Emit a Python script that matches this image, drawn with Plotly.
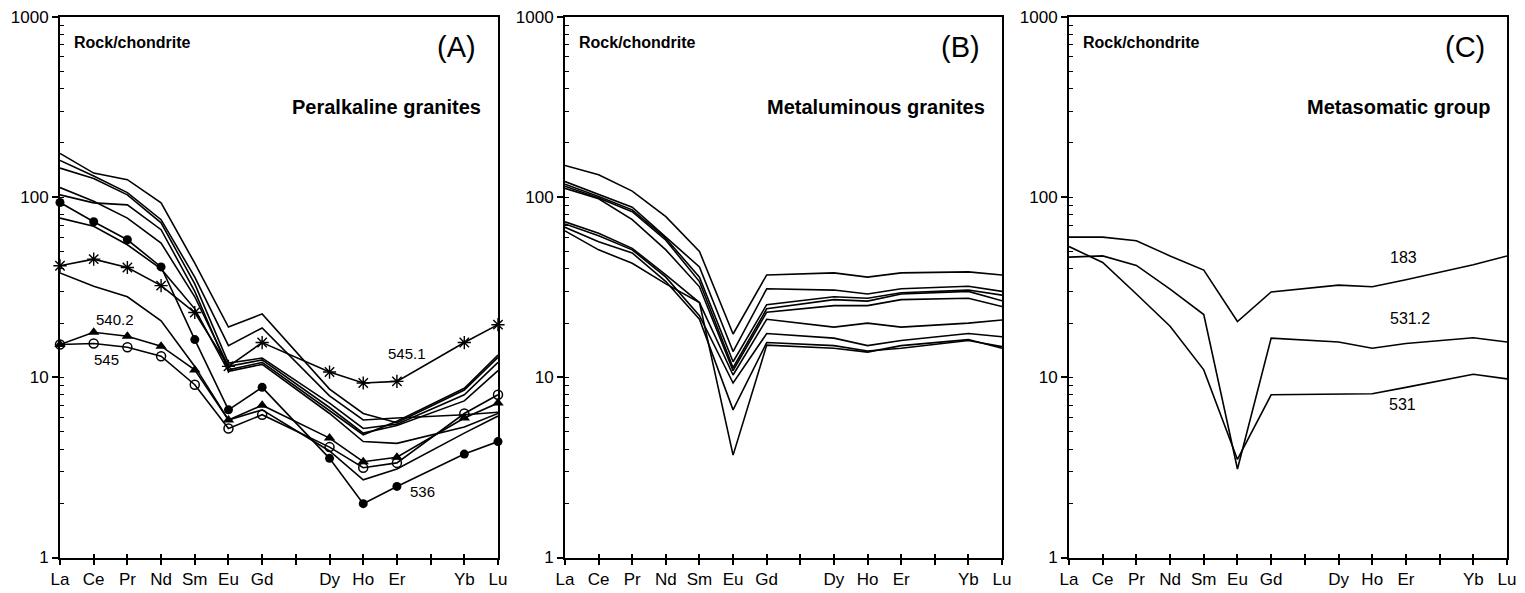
import math
import plotly.graph_objects as go

# Rare earth elements in atomic order; Tb and Tm were not analysed
REE_ALL = ["La", "Ce", "Pr", "Nd", "Sm", "Eu", "Gd", "Tb", "Dy", "Ho", "Er", "Tm", "Yb", "Lu"]
REE = ["La", "Ce", "Pr", "Nd", "Sm", "Eu", "Gd", "Dy", "Ho", "Er", "Yb", "Lu"]
TICK_TEXT = [e if e in REE else "" for e in REE_ALL]

# (A) Peralkaline granites, chondrite-normalised
A_unlabelled = [
    [175, 136, 125, 93, 43, 19, 22.5, 8.6, 6.3, 5.6, 8.5, 12.9],
    [160, 131, 106, 75, 36, 15, 18.8, 7.9, 5.8, 5.95, 6.2, 6.4],
    [145, 127, 103, 72, 33, 12, 12.8, 7.2, 5.2, 5.5, 8.0, 12.1],
    [113, 95, 76.5, 55.6, 28, 11.5, 12.5, 6.8, 4.9, 5.4, 7.4, 10.9],
    [103, 93, 90.6, 66, 30, 11, 12.1, 6.5, 4.8, 5.7, 8.7, 13.3],
    [76.5, 69, 54.4, 40, 24, 10.8, 11.8, 6.3, 4.4, 4.3, 5.3, 6.3],
    [38, 32, 28, 20.6, 11.5, 5.8, 6.6, 3.9, 2.7, 3.1, 4.9, 6.1],
]
s536 = [93.4, 73, 58, 41, 16.2, 6.6, 8.8, 3.55, 1.99, 2.48, 3.75, 4.4]
s545_1 = [41.6, 45.3, 40.7, 32.3, 22.9, 11.5, 15.6, 10.7, 9.3, 9.5, 15.6, 19.6]
s540_2 = [15.2, 17.8, 16.9, 14.9, 11.0, 5.8, 7.0, 4.6, 3.4, 3.6, 5.95, 7.2]
s545 = [15.2, 15.4, 14.7, 13.1, 9.1, 5.2, 6.2, 4.1, 3.15, 3.35, 6.3, 8.0]

# (B) Metaluminous granites
B_samples = [
    [150, 133, 108, 78, 50, 17.4, 37, 38, 36, 38, 38.5, 37],
    [122, 104, 88, 60, 41, 13.9, 31, 30.5, 29, 31, 32, 30],
    [118, 101, 85, 59, 36, 12.2, 25.3, 28, 27.5, 29.5, 30.5, 28.6],
    [115, 99, 83, 57.7, 34, 11.3, 24, 27, 26.5, 29, 30, 26.6],
    [112, 98, 75, 51, 31.8, 10.9, 23, 25, 25, 27, 27.5, 24.7],
    [73, 63, 52, 37, 26, 10.3, 21, 19, 20, 19, 20, 20.8],
    [71, 61, 51, 36, 22, 9.3, 17.5, 16.5, 15, 16, 17.5, 16.8],
    [68, 56.5, 49, 34, 21, 6.6, 15.6, 15, 14, 14.5, 16, 14.8],
    [65, 51, 43, 33, 26, 3.7, 15.1, 14.5, 13.8, 15, 16.2, 14.5],
]

# (C) Metasomatic group
s183 = [60, 60, 57.3, 47.2, 39.4, 20.4, 29.8, 32.5, 31.8, 34.8, 42.2, 47.2]
s531_2 = [46.5, 47.2, 41.8, 30.9, 22.3, 3.1, 16.5, 15.7, 14.5, 15.4, 16.6, 15.7]
s531 = [53.2, 43.4, 29.0, 19.2, 11.0, 3.5, 8.0, 8.05, 8.1, 8.8, 10.4, 9.8]

FONT = "Liberation Sans, Arial, sans-serif"
LINE = dict(color="black", width=1.6)

fig = go.Figure()


def add_line(values, axis, symbol=None, name=""):
    xr, yr = axis
    mode = "lines+markers" if symbol else "lines"
    marker = None
    if symbol == "circle-open":
        marker = dict(symbol=symbol, size=9, color="black", line=dict(color="black", width=1.5))
    elif symbol == "asterisk-open":
        marker = dict(symbol=symbol, size=11, color="black", line=dict(color="black", width=1.4))
    elif symbol == "triangle-up":
        marker = dict(symbol=symbol, size=10, color="black")
    elif symbol:
        marker = dict(symbol=symbol, size=9, color="black")
    fig.add_trace(go.Scatter(x=REE, y=values, mode=mode, line=LINE, marker=marker,
                             name=name, xaxis=xr, yaxis=yr, showlegend=False,
                             cliponaxis=False, hoverinfo="x+y+name"))


for v in A_unlabelled:
    add_line(v, ("x", "y"))
add_line(s536, ("x", "y"), "circle", "536")
add_line(s545_1, ("x", "y"), "asterisk-open", "545.1")
add_line(s540_2, ("x", "y"), "triangle-up", "540.2")
add_line(s545, ("x", "y"), "circle-open", "545")

for v in B_samples:
    add_line(v, ("x2", "y2"))

add_line(s183, ("x3", "y3"), name="183")
add_line(s531_2, ("x3", "y3"), name="531.2")
add_line(s531, ("x3", "y3"), name="531")

# invisible anchors so the inner tick overlays are drawn
for i in range(3):
    k = "" if i == 0 else str(i + 1)
    fig.add_trace(go.Scatter(x=["La"], y=[1], mode="markers", marker=dict(opacity=0),
                             xaxis="x" + str(i + 4), yaxis="y" + k, showlegend=False, hoverinfo="skip"))
    fig.add_trace(go.Scatter(x=["La"], y=[1], mode="markers", marker=dict(opacity=0),
                             xaxis="x" + k, yaxis="y" + str(i + 4), showlegend=False, hoverinfo="skip"))

W, H = 1525, 593
x_domains = [(60, 498), (565, 1002), (1069, 1507)]
y_top, y_bot = 17, 557.5
y_domain = [1 - y_bot / H, 1 - y_top / H]

major = [1, 10, 100, 1000]
minor = [k * 10 ** e for e in range(3) for k in range(1, 10)] + [1000]

layout = dict(width=W, height=H, margin=dict(l=0, r=0, t=0, b=0),
              paper_bgcolor="white", plot_bgcolor="white",
              font=dict(family=FONT, color="black"))

for i, (x0, x1) in enumerate(x_domains):
    k = "" if i == 0 else str(i + 1)
    ov = str(i + 4)
    layout["xaxis" + k] = dict(
        domain=[x0 / W, x1 / W], anchor="y" + k, type="category",
        categoryorder="array", categoryarray=REE_ALL, range=[0, 13],
        tickmode="array", tickvals=REE_ALL, ticktext=TICK_TEXT,
        ticks="outside", ticklen=5, tickwidth=1.5, tickcolor="black",
        showline=True, linewidth=2, linecolor="black", mirror=True,
        showgrid=False, zeroline=False, automargin=False,
        tickfont=dict(size=17, family=FONT, color="black"))
    layout["yaxis" + k] = dict(
        domain=y_domain, anchor="x" + k, type="log", range=[0, 3],
        tickmode="array", tickvals=major, ticktext=[str(m) for m in major],
        ticks="outside", ticklen=6, tickwidth=1.5, tickcolor="black",
        showline=True, linewidth=2, linecolor="black", mirror=True,
        showgrid=False, zeroline=False, automargin=False,
        tickfont=dict(size=17, family=FONT, color="black"))
    layout["xaxis" + ov] = dict(
        overlaying="x" + k, anchor="y" + k, type="category",
        categoryorder="array", categoryarray=REE_ALL, range=[0, 13],
        tickmode="array", tickvals=REE_ALL, showticklabels=False,
        ticks="inside", ticklen=4, tickwidth=1.5, tickcolor="black",
        showline=False, showgrid=False, zeroline=False, automargin=False)
    layout["yaxis" + ov] = dict(
        overlaying="y" + k, anchor="x" + k, type="log", range=[0, 3], side="left",
        tickmode="array", tickvals=minor, showticklabels=False,
        ticks="inside", ticklen=4, tickwidth=1.3, tickcolor="black",
        showline=False, showgrid=False, zeroline=False, automargin=False)

fig.update_layout(**layout)

panels = [("x", "y", "(A)", "Peralkaline granites"),
          ("x2", "y2", "(B)", "Metaluminous granites"),
          ("x3", "y3", "(C)", "Metasomatic group")]
for xr, yr, tag, title in panels:
    fig.add_annotation(x=0.027, y=0.953, xref=xr + " domain", yref=yr + " domain",
                       text="<b>Rock/chondrite</b>", showarrow=False,
                       xanchor="left", yanchor="middle", font=dict(size=16, family=FONT))
    fig.add_annotation(x=0.905, y=0.944, xref=xr + " domain", yref=yr + " domain",
                       text=tag, showarrow=False, xanchor="center", yanchor="middle",
                       font=dict(size=29, family=FONT))
    fig.add_annotation(x=0.966, y=0.834, xref=xr + " domain", yref=yr + " domain",
                       text="<b>" + title + "</b>", showarrow=False,
                       xanchor="right", yanchor="middle", font=dict(size=20, family=FONT))

# sample labels, placed in data coordinates (log10 for y)
sample_labels = [
    ("x", "y", 1.64, 21.0, "540.2", 15),
    ("x", "y", 1.39, 12.6, "545", 15),
    ("x", "y", 10.31, 13.5, "545.1", 15),
    ("x", "y", 10.77, 2.32, "536", 15),
    ("x3", "y3", 9.94, 46.5, "183", 16),
    ("x3", "y3", 10.12, 21.2, "531.2", 16),
    ("x3", "y3", 9.91, 7.05, "531", 16),
]
for xr, yr, xi, val, txt, sz in sample_labels:
    fig.add_annotation(x=xi, y=math.log10(val), xref=xr, yref=yr, text=txt,
                       showarrow=False, xanchor="center", yanchor="middle",
                       font=dict(size=sz, family=FONT))

fig.write_html("out.html")
